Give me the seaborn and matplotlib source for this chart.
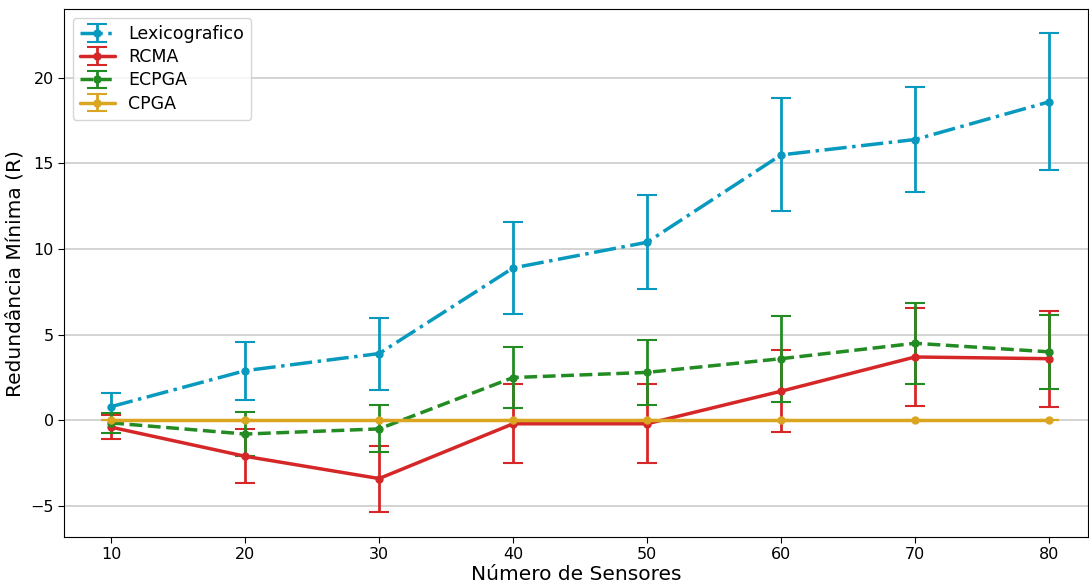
import numpy as np
import matplotlib
matplotlib.use("Agg")
import matplotlib.pyplot as plt
import seaborn as sns

# Values
sensores = [10, 20, 30, 40, 50, 60, 70, 80]

lex_mean = [0.8, 2.9, 3.9, 8.9, 10.4, 15.5, 16.4, 18.6]
lex_err = [0.8, 1.7, 2.1, 2.7, 2.75, 3.3, 3.05, 4.0]

rcma_mean = [-0.4, -2.1, -3.4, -0.2, -0.2, 1.7, 3.7, 3.6]
rcma_err = [0.7, 1.57, 1.93, 2.3, 2.3, 2.4, 2.85, 2.8]

ecpga_mean = [-0.15, -0.8, -0.5, 2.5, 2.8, 3.6, 4.5, 4.0]
ecpga_err = [0.6, 1.3, 1.37, 1.8, 1.9, 2.5, 2.35, 2.15]

cpga_mean = [0, 0, 0, 0, 0, 0, 0, 0]
cpga_err = [0, 0, 0, 0, 0, 0, 0, 0]

series = [
    ("Lexicografico", lex_mean, lex_err, "#0899bf", "-."),
    ("RCMA", rcma_mean, rcma_err, "#d62728", "-"),
    ("ECPGA", ecpga_mean, ecpga_err, "#228b22", "--"),
    ("CPGA", cpga_mean, cpga_err, "#daa520", "-"),
]

sns.set_style("ticks", {"text.color": "black", "axes.labelcolor": "black",
                        "xtick.color": "black", "ytick.color": "black",
                        "axes.edgecolor": "black"})
plt.rcParams["font.family"] = ["DejaVu Sans"]

fig = plt.figure(figsize=(10.89, 5.86), dpi=100)
ax = fig.add_axes([0.059, 0.084, 0.94, 0.9])

for name, mean, err, color, ls in series:
    ax.errorbar(sensores, mean, yerr=err, label=name, color=color, linestyle=ls,
                linewidth=2.5, marker="o", markersize=5, capsize=7,
                elinewidth=2, capthick=1.5)

ax.yaxis.grid(True, color="#cccccc", linewidth=1.2)
ax.set_axisbelow(True)
ax.set_xlim(6.5, 82.9)
ax.set_ylim(-6.8, 24.0)
ax.set_xticks(sensores)
ax.set_yticks([-5, 0, 5, 10, 15, 20])
ax.set_yticklabels(["\u22125", "0", "5", "10", "15", "20"])
ax.tick_params(labelsize=11.5, length=4)
for s in ["top", "right"]:
    ax.spines[s].set_visible(True)
ax.set_xlabel("Número de Sensores", fontsize=14.5, labelpad=2)
ax.set_ylabel("Redundância Mínima (R)", fontsize=14.5, labelpad=4)
ax.legend(loc="upper left", fontsize=12.5, frameon=True, handlelength=2,
          borderpad=0.4, labelspacing=0.3)

fig.savefig("out.png", dpi=100)
